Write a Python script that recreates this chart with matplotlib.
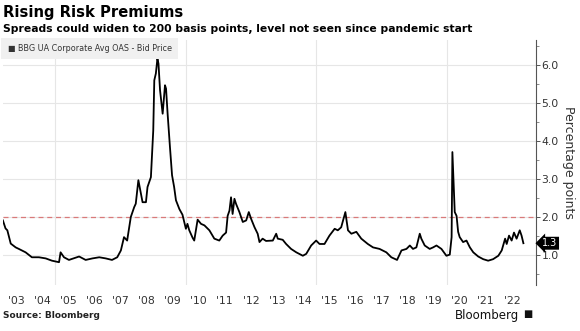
import matplotlib
matplotlib.use("Agg")
import matplotlib.pyplot as plt
import matplotlib.transforms as mtransforms
import numpy as np

# BBG US Corporate Avg OAS, Jahr als Dezimalzahl und Spread in Prozentpunkten
jahr = [2003.00, 2003.10, 2003.17, 2003.30, 2003.49, 2003.61, 2003.87, 2004.11, 2004.38, 2004.64,
        2004.88, 2005.15, 2005.21, 2005.34, 2005.53, 2005.92, 2006.17, 2006.43, 2006.69, 2006.94,
        2007.18, 2007.38, 2007.52, 2007.64, 2007.76, 2007.90, 2008.03, 2008.09, 2008.19, 2008.35,
        2008.48, 2008.54, 2008.67, 2008.76, 2008.80, 2008.86, 2008.92, 2008.96, 2009.02, 2009.12,
        2009.21, 2009.25, 2009.31, 2009.40, 2009.48, 2009.56, 2009.63, 2009.76, 2009.88, 2010.01,
        2010.07, 2010.14, 2010.27, 2010.33, 2010.46, 2010.59, 2010.72, 2010.91, 2011.10, 2011.29,
        2011.42, 2011.55, 2011.61, 2011.68, 2011.74, 2011.80, 2011.87, 2011.93, 2012.06, 2012.19,
        2012.32, 2012.42, 2012.51, 2012.64, 2012.76, 2012.83, 2012.95, 2013.08, 2013.34, 2013.47,
        2013.53, 2013.72, 2013.85, 2014.04, 2014.24, 2014.49, 2014.62, 2014.81, 2015.00, 2015.13,
        2015.32, 2015.51, 2015.71, 2015.83, 2015.96, 2016.12, 2016.22, 2016.35, 2016.54, 2016.73,
        2016.98, 2017.18, 2017.43, 2017.69, 2017.88, 2018.10, 2018.27, 2018.46, 2018.59, 2018.71,
        2018.84, 2018.97, 2019.03, 2019.16, 2019.35, 2019.48, 2019.61, 2019.80, 2019.99, 2020.12,
        2020.19, 2020.22, 2020.27, 2020.31, 2020.38, 2020.44, 2020.50, 2020.63, 2020.76, 2020.89,
        2021.02, 2021.21, 2021.40, 2021.59, 2021.78, 2021.98, 2022.11, 2022.24, 2022.30, 2022.39,
        2022.49, 2022.58, 2022.68, 2022.80, 2022.87, 2022.94]
spread = [1.90, 1.69, 1.64, 1.29, 1.19, 1.15, 1.06, 0.93, 0.93, 0.90,
          0.84, 0.80, 1.06, 0.93, 0.86, 0.95, 0.86, 0.90, 0.93, 0.90,
          0.86, 0.93, 1.11, 1.46, 1.37, 1.99, 2.25, 2.34, 2.96, 2.38,
          2.38, 2.78, 3.04, 4.27, 5.59, 5.77, 6.16, 6.03, 5.33, 4.71,
          5.46, 5.37, 4.71, 3.83, 3.09, 2.78, 2.43, 2.20, 2.05, 1.68,
          1.81, 1.64, 1.44, 1.37, 1.92, 1.81, 1.77, 1.64, 1.42, 1.37,
          1.50, 1.58, 2.02, 2.16, 2.51, 2.07, 2.47, 2.34, 2.12, 1.86,
          1.90, 2.12, 1.94, 1.72, 1.55, 1.33, 1.42, 1.36, 1.37, 1.55,
          1.42, 1.39, 1.28, 1.15, 1.06, 0.97, 1.02, 1.24, 1.37, 1.28,
          1.28, 1.50, 1.68, 1.64, 1.72, 2.12, 1.64, 1.55, 1.60, 1.42,
          1.28, 1.19, 1.15, 1.06, 0.93, 0.86, 1.11, 1.15, 1.24, 1.15,
          1.19, 1.55, 1.42, 1.24, 1.15, 1.19, 1.24, 1.15, 0.97, 1.00,
          1.46, 3.70, 2.86, 2.12, 2.02, 1.60, 1.46, 1.33, 1.37, 1.19,
          1.06, 0.95, 0.88, 0.84, 0.88, 0.97, 1.11, 1.42, 1.28, 1.50,
          1.37, 1.58, 1.42, 1.64, 1.50, 1.30]

jahre = list(range(2003, 2023))
jahr_labels = ["'%02d" % (j % 100) for j in jahre]
schwelle = 2.0
raster_jahre = [2005, 2010, 2015, 2020]

fig = plt.figure(figsize=(5.8, 3.31), dpi=100)
ax = fig.add_axes([0.005, 0.139, 0.919, 0.740])

ax.plot(jahr, spread, color='black', lw=1.3, zorder=3)
ax.axhline(schwelle, color='#d97a7a', lw=0.9, ls=(0, (4, 3)), zorder=2)

for j in raster_jahre:
    ax.axvline(j, color='#e6e6e6', lw=0.8, zorder=0)

ax.set_xlim(2003.0, 2023.42)
ax.set_ylim(0.2, 6.65)

# Jahreslabels mittig im Jahr, ohne Tickstriche
ax.set_xticks([j + 0.5 for j in jahre])
ax.set_xticklabels(jahr_labels)
ax.tick_params(axis='x', length=0, labelsize=7.8, labelcolor='#333333', pad=8)

ax.yaxis.tick_right()
ax.set_yticks([1, 2, 3, 4, 5, 6])
ax.set_yticklabels(['%.1f' % v for v in [1, 2, 3, 4, 5, 6]])
ax.set_yticks(np.arange(0.5, 6.6, 1.0), minor=True)
ax.tick_params(axis='y', which='major', length=3, width=0.7, color='#555555',
               labelsize=7.8, labelcolor='#333333', pad=1)
ax.tick_params(axis='y', which='minor', length=2, width=0.6, color='#777777')
ax.grid(axis='y', which='major', color='#e6e6e6', lw=0.8, zorder=0)

for s in ['top', 'left', 'bottom']:
    ax.spines[s].set_visible(False)
ax.spines['right'].set_color('#555555')
ax.spines['right'].set_linewidth(0.8)

ax.yaxis.set_label_position('right')
ax.set_ylabel('Percentage points', rotation=270, fontsize=9, color='#333333', labelpad=12)

# Legende als graues Kästchen oben links
fig.text(0.013, 0.853, '\u25a0 BBG UA Corporate Avg OAS - Bid Price', fontsize=5.8, color='#333333',
         va='center', bbox=dict(boxstyle='square,pad=0.75', fc='#f0f0f0', ec='none'))

# letzter Wert als Fähnchen an der Achse
trans = mtransforms.blended_transform_factory(ax.transAxes, ax.transData)
ax.text(1.012, spread[-1], '%.1f' % spread[-1], transform=trans, fontsize=7, color='white',
        va='center', ha='left', zorder=5, clip_on=False,
        bbox=dict(boxstyle='larrow,pad=0.15', fc='black', ec='none'))

fig.text(0.005, 0.963, 'Rising Risk Premiums', fontsize=10.6, fontweight='bold', va='center')
fig.text(0.005, 0.912, 'Spreads could widen to 200 basis points, level not seen since pandemic start',
         fontsize=7.75, fontweight='bold', va='center')
fig.text(0.005, 0.048, 'Source: Bloomberg', fontsize=6.5, fontweight='bold', va='center', color='#222222')
fig.text(0.895, 0.048, 'Bloomberg', fontsize=8.5, va='center', ha='right', color='#111111')
fig.text(0.902, 0.050, '\u25a0', fontsize=7, va='center', ha='left', color='#111111')

fig.savefig('out.png', dpi=100, facecolor='white')
